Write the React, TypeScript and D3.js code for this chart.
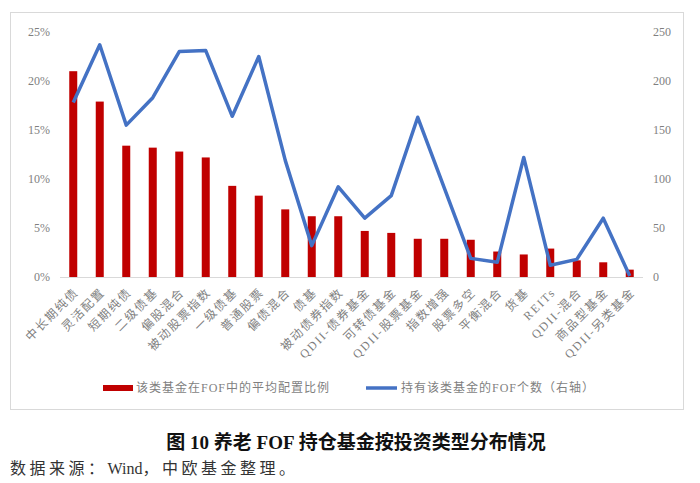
import { useEffect, useRef } from 'react';
import * as d3 from 'd3';

const categories = [
  '中长期纯债', '灵活配置', '短期纯债', '二级债基', '偏股混合', '被动股票指数',
  '一级债基', '普通股票', '偏债混合', '债基', '被动债券指数', 'QDII-债券基金',
  '可转债基金', 'QDII-股票基金', '指数增强', '股票多空', '平衡混合', '货基',
  'REITs', 'QDII-混合', '商品型基金', 'QDII-另类基金'
];
const avgShare = [
  21.0, 17.9, 13.4, 13.2, 12.8, 12.2, 9.3, 8.3, 6.9, 6.2, 6.2, 4.7,
  4.5, 3.9, 3.9, 3.8, 2.6, 2.3, 2.9, 1.7, 1.5, 0.75
];
const fofCount = [
  178, 237, 155, 183, 230, 231, 164, 225, 119, 32, 92, 60,
  83, 163, 91, 19, 15, 122, 12, 18, 60, 1
];
const leftTicks = [0, 5, 10, 15, 20, 25];
const rightTicks = [0, 50, 100, 150, 200, 250];

const W = 700;
const H = 483;
const FONT = '"Liberation Serif", "Noto Sans CJK SC", serif';

export default function App() {
  const svgRef = useRef<SVGSVGElement>(null);

  useEffect(() => {
    if (!svgRef.current) return;
    const svg = d3.select(svgRef.current);
    svg.selectAll('*').remove();

    const x = d3.scaleBand<string>().domain(categories).range([60, 643]).paddingInner(0.7).paddingOuter(0.35);
    const yL = d3.scaleLinear().domain([0, 25]).range([277, 32]);
    const yR = d3.scaleLinear().domain([0, 250]).range([277, 32]);
    const cx = (c: string) => (x(c) as number) + x.bandwidth() / 2;

    // chart frame
    svg.append('rect')
      .attr('x', 10.5).attr('y', 12.5).attr('width', 673).attr('height', 397)
      .attr('fill', 'white').attr('stroke', '#d9d9d9').attr('stroke-width', 1);

    // left ticks
    svg.append('g').selectAll('text').data(leftTicks).join('text')
      .attr('x', 50).attr('y', d => yL(d) + 4)
      .attr('text-anchor', 'end')
      .style('font-family', FONT).style('font-size', '12px')
      .style('fill', '#7f7f7f')
      .text(d => `${d}%`);

    // right ticks
    svg.append('g').selectAll('text').data(rightTicks).join('text')
      .attr('x', 653).attr('y', d => yR(d) + 4)
      .attr('text-anchor', 'start')
      .style('font-family', FONT).style('font-size', '12px')
      .style('fill', '#7f7f7f')
      .text(d => d);

    // bars
    svg.append('g').selectAll('rect').data(categories).join('rect')
      .attr('x', d => cx(d) - 4)
      .attr('width', 8)
      .attr('y', (_, i) => yL(avgShare[i]))
      .attr('height', (_, i) => yL(0) - yL(avgShare[i]))
      .attr('fill', '#c00000');

    // baseline
    svg.append('line')
      .attr('x1', 60).attr('x2', 643).attr('y1', 277.5).attr('y2', 277.5)
      .attr('stroke', '#d9d9d9').attr('stroke-width', 1);

    // line series
    const line = d3.line<number>()
      .x((_, i) => cx(categories[i]))
      .y(d => yR(d));
    svg.append('path')
      .datum(fofCount)
      .attr('d', line)
      .attr('fill', 'none')
      .attr('stroke', '#4472c4')
      .attr('stroke-width', 3.5)
      .attr('stroke-linejoin', 'round');

    // category labels
    svg.append('g').selectAll('text').data(categories).join('text')
      .attr('transform', d => `translate(${cx(d) + 6},${293}) rotate(-45)`)
      .attr('text-anchor', 'end')
      .style('font-family', FONT).style('font-size', '12px')
      .style('letter-spacing', '1.8px')
      .style('fill', '#7f7f7f')
      .text(d => d);

    // legend
    const legend = svg.append('g').style('font-family', FONT)
      .style('font-size', '12px').style('fill', '#7f7f7f');
    legend.append('rect').attr('x', 103).attr('y', 385).attr('width', 30).attr('height', 6).attr('fill', '#c00000');
    legend.append('text').attr('x', 136).attr('y', 392).style('letter-spacing', '1px')
      .text('该类基金在FOF中的平均配置比例');
    legend.append('line').attr('x1', 366).attr('x2', 397).attr('y1', 388).attr('y2', 388)
      .attr('stroke', '#4472c4').attr('stroke-width', 3.5);
    legend.append('text').attr('x', 401).attr('y', 392).style('letter-spacing', '1px')
      .text('持有该类基金的FOF个数（右轴）');

    // caption
    svg.append('text')
      .attr('x', 356).attr('y', 449).attr('text-anchor', 'middle')
      .style('font-family', FONT).style('font-size', '19px')
      .style('font-weight', 'bold').style('fill', '#111')
      .text('图 10  养老 FOF 持仓基金按投资类型分布情况');
    const src = svg.append('text')
      .attr('x', 10).attr('y', 474)
      .style('font-family', FONT).style('font-size', '16px')
      .style('fill', '#333');
    src.append('tspan').style('letter-spacing', '3.5px').text('数据来源：');
    src.append('tspan').style('letter-spacing', '0px').text('Wind');
    src.append('tspan').style('letter-spacing', '3.5px').text('，中欧基金整理。');
  }, []);

  return (
    <svg
      ref={svgRef}
      width={W}
      height={H}
      style={{ position: 'absolute', left: 0, top: 0, background: 'white' }}
    />
  );
}
